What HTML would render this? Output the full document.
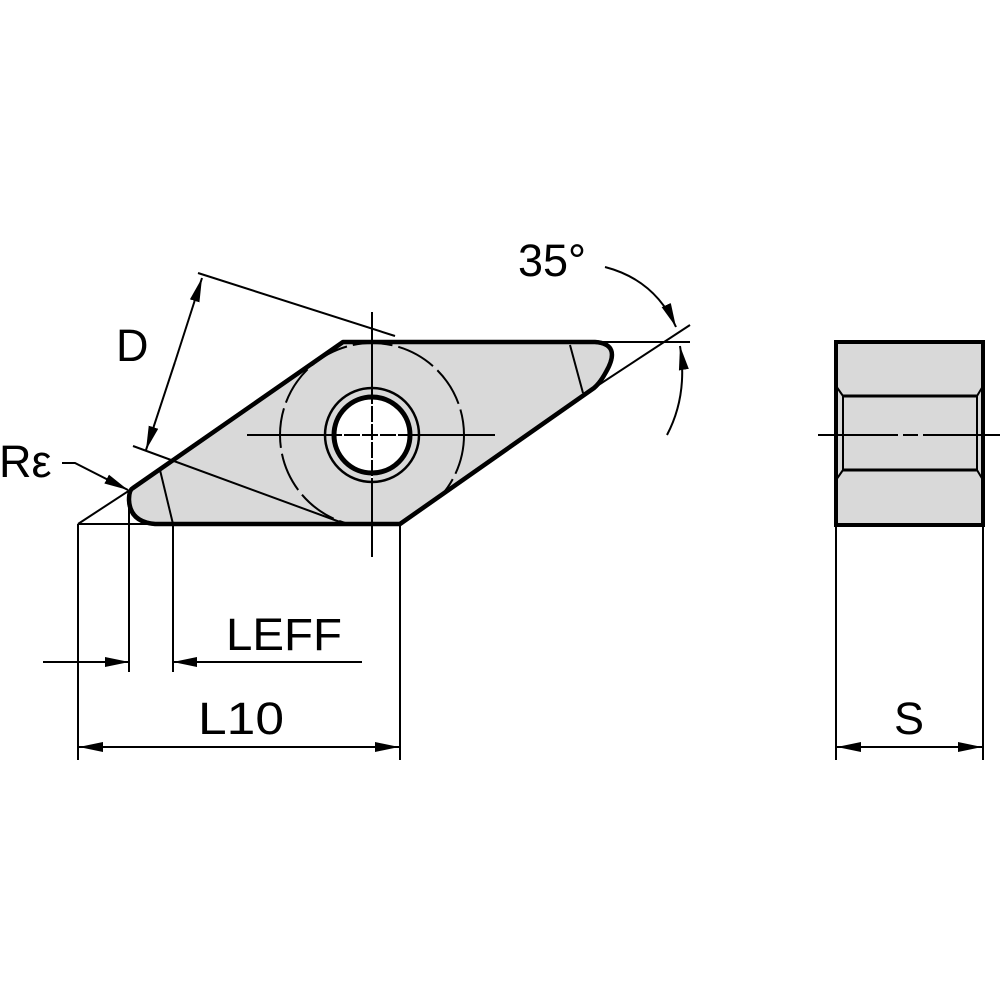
<!DOCTYPE html>
<html><head><style>html,body{margin:0;padding:0;background:#fff}svg{display:block}</style></head>
<body>
<svg width="1000" height="1000" viewBox="0 0 1000 1000" xmlns="http://www.w3.org/2000/svg" font-family="Liberation Sans, sans-serif">
<defs>
<marker id="a" viewBox="0 0 24 12" refX="24" refY="6" markerWidth="24" markerHeight="12" markerUnits="userSpaceOnUse" orient="auto"><path d="M0,1 L24,6 L0,11 z" fill="#000"/></marker>
<clipPath id="c"><path d="M343,342 L595,342 Q622,344 606,372 Q600,383 594,388 L400,524 L155,524 Q130,522 129,500 Q129,490 133,488 Z"/></clipPath>
</defs>
<g stroke="#000" fill="none">
<path d="M343,342 L595,342 Q622,344 606,372 Q600,383 594,388 L400,524 L155,524 Q130,522 129,500 Q129,490 133,488 Z" fill="#d9d9d9" stroke-width="4"/>
<circle cx="372" cy="435" r="92" stroke-width="2" stroke-dasharray="40 6" clip-path="url(#c)"/>
<circle cx="372" cy="435" r="47" stroke-width="2.5"/>
<circle cx="372" cy="435" r="38" stroke-width="5" fill="#fff"/>
<path d="M343,342 L595,342 Q622,344 606,372 Q600,383 594,388 L400,524 L155,524 Q130,522 129,500 Q129,490 133,488 Z" stroke-width="4.5" stroke-linejoin="round"/>
<line x1="160" y1="470" x2="173" y2="524" stroke-width="2"/>
<line x1="570" y1="345" x2="583" y2="393" stroke-width="2"/>
<line x1="372" y1="312" x2="372" y2="557" stroke-width="2"/>
<line x1="247" y1="435" x2="495" y2="435" stroke-width="2"/>
<line x1="372" y1="392" x2="372" y2="478" stroke="#fff" stroke-width="2" stroke-dasharray="14 4"/>
<line x1="330" y1="435" x2="414" y2="435" stroke="#fff" stroke-width="2" stroke-dasharray="14 4"/>
<line x1="372" y1="392" x2="372" y2="478" stroke-width="2" stroke-dasharray="12 6"/>
<line x1="330" y1="435" x2="414" y2="435" stroke-width="2" stroke-dasharray="12 6"/>
<line x1="78" y1="524" x2="133" y2="488" stroke-width="2"/>
<line x1="594" y1="388" x2="690" y2="325" stroke-width="2"/>
<line x1="595" y1="342" x2="690" y2="342" stroke-width="2"/>
<line x1="78" y1="524" x2="150" y2="524" stroke-width="2"/>
<line x1="78" y1="524" x2="78" y2="760" stroke-width="2"/>
<line x1="129" y1="500" x2="129" y2="672" stroke-width="2"/>
<line x1="173" y1="524" x2="173" y2="672" stroke-width="2"/>
<line x1="400" y1="524" x2="400" y2="760" stroke-width="2"/>
<line x1="198" y1="273" x2="395" y2="336" stroke-width="2"/>
<line x1="133" y1="446" x2="340" y2="522" stroke-width="2"/>
<line x1="175" y1="362" x2="202" y2="278" stroke-width="2" marker-end="url(#a)"/>
<line x1="175" y1="362" x2="146" y2="450" stroke-width="2" marker-end="url(#a)"/>
<path d="M62,463 L75,463 L128,490" stroke-width="2" marker-end="url(#a)"/>
<line x1="43" y1="662" x2="129" y2="662" stroke-width="2" marker-end="url(#a)"/>
<line x1="362" y1="662" x2="173" y2="662" stroke-width="2" marker-end="url(#a)"/>
<line x1="240" y1="747" x2="79" y2="747" stroke-width="2" marker-end="url(#a)"/>
<line x1="240" y1="747" x2="399" y2="747" stroke-width="2" marker-end="url(#a)"/>
<path d="M605,267 Q655,280 676,327" stroke-width="2" marker-end="url(#a)"/>
<path d="M667,435 Q688,395 680,346" stroke-width="2" marker-end="url(#a)"/>
<rect x="836" y="342" width="147" height="183" fill="#d9d9d9" stroke-width="4"/>
<line x1="843" y1="396" x2="977" y2="396" stroke-width="3"/>
<line x1="843" y1="470" x2="977" y2="470" stroke-width="3"/>
<line x1="843" y1="396" x2="843" y2="470" stroke-width="2"/>
<line x1="977" y1="396" x2="977" y2="470" stroke-width="2"/>
<line x1="836" y1="386" x2="843" y2="396" stroke-width="2"/>
<line x1="983" y1="386" x2="977" y2="396" stroke-width="2"/>
<line x1="836" y1="480" x2="843" y2="470" stroke-width="2"/>
<line x1="983" y1="480" x2="977" y2="470" stroke-width="2"/>
<line x1="818" y1="435" x2="1000" y2="435" stroke-width="2" stroke-dasharray="80 5 15 5 100"/>
<line x1="836" y1="525" x2="836" y2="760" stroke-width="2"/>
<line x1="983" y1="525" x2="983" y2="760" stroke-width="2"/>
<line x1="910" y1="747" x2="837" y2="747" stroke-width="2" marker-end="url(#a)"/>
<line x1="910" y1="747" x2="982" y2="747" stroke-width="2" marker-end="url(#a)"/>
</g>
<g fill="#000" font-size="45">
<text x="116" y="361">D</text>
<text x="518" y="276">35°</text>
<text x="-1" y="477">Rε</text>
<text x="226" y="650" textLength="116" lengthAdjust="spacingAndGlyphs">LEFF</text>
<text x="198" y="734" textLength="86" lengthAdjust="spacingAndGlyphs">L10</text>
<text x="894" y="734">S</text>
</g>
</svg>
</body></html>
